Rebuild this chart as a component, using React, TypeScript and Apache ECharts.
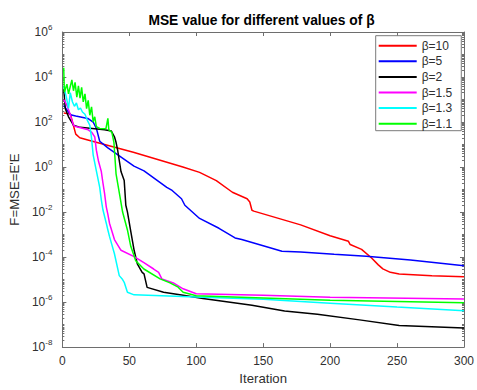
import React, { useEffect, useRef } from "react";
import * as echarts from "echarts";

// Iteration / MSE value pairs
const beta10: [number, number][] = [
  [1, 250], [6, 230], [8, 80], [10, 29], [13, 20], [19, 16], [53, 4.5], [90, 1.0],
  [102.5, 0.58], [115, 0.25], [127, 0.076], [138, 0.039], [140, 0.028], [141.6, 0.012],
  [143, 0.011], [178, 2.7e-3], [200, 8.9e-4], [213.7, 5.0e-4], [215, 3.6e-4],
  [223.5, 2.2e-4], [230.8, 9.3e-5], [236, 4.5e-5], [239.4, 3.0e-5], [245, 2.1e-5],
  [251.6, 1.78e-5], [276, 1.48e-5], [300, 1.35e-5],
];
const beta5: [number, number][] = [
  [1, 550], [6, 210], [10, 185], [19, 145], [23, 100], [25.4, 52], [27.9, 14], [34, 7.1],
  [53.5, 1.1], [61, 0.68], [78, 0.126], [82, 0.091], [89, 0.039], [91.5, 0.02],
  [102.5, 5.2e-3], [117, 1.9e-3], [129, 7.1e-4], [134, 6.0e-4], [150, 3.2e-4],
  [164, 1.8e-4], [178, 1.66e-4], [203, 1.32e-4], [227, 1.1e-4], [260, 7.4e-5], [300, 4.1e-5],
];
const beta2: [number, number][] = [
  [1, 2900], [2.2, 390], [4.6, 170], [8.3, 72], [13.2, 58], [31.5, 45], [36.5, 40],
  [38.9, 22], [40.1, 12.6], [41.3, 5.6], [43.8, 0.63], [46.2, 0.25], [47.4, 0.02],
  [48.6, 0.0102], [51.1, 1.4e-3], [53.6, 2.0e-4], [56, 5.0e-5], [59.6, 2.1e-5],
  [61, 1.78e-5], [63.3, 4.5e-6], [75.6, 2.75e-6], [90.2, 2.0e-6], [105, 1.45e-6],
  [141.6, 7.2e-7], [166, 4.0e-7], [190.5, 2.9e-7], [222, 1.62e-7], [251.6, 9.1e-8],
  [300, 7.1e-8],
];
const beta15: [number, number][] = [
  [1, 1000], [3, 630], [5.5, 250], [7, 125], [8.3, 72], [10, 63], [19.3, 45], [22, 35],
  [24.2, 22], [25.4, 5.6], [27, 1.8], [29.1, 0.63], [30.3, 0.2], [31.5, 0.07],
  [32.8, 0.017], [34, 7.9e-3], [35.2, 3.2e-3], [38.9, 6.0e-4], [43.8, 2.0e-4],
  [53.6, 1.05e-4], [60.9, 5.6e-5], [68.2, 2.95e-5], [71.9, 2.1e-5], [74.3, 1.07e-5],
  [82.9, 7.1e-6], [90.2, 3.9e-6], [100, 2.34e-6], [150, 2.0e-6], [200, 1.66e-6],
  [300, 1.38e-6],
];
const beta13: [number, number][] = [
  [1, 4000], [3, 1250], [4.6, 400], [5.9, 2000], [7.5, 800], [9, 500], [10.5, 700],
  [12, 350], [13.5, 420], [15, 280], [16.9, 220], [18.5, 125], [20.5, 72], [21.8, 19],
  [23, 3.5], [25.4, 0.68], [27.9, 0.126], [29.1, 0.035], [30.3, 0.0126], [32.8, 3.2e-3],
  [34, 1.6e-3], [35.2, 8.3e-4], [38.9, 1.4e-4], [42.5, 1.5e-5], [45, 1.0e-5],
  [46.2, 7.6e-6], [48.6, 2.75e-6], [53.6, 2.1e-6], [100, 1.7e-6], [150, 1.32e-6],
  [200, 8.9e-7], [250, 6.0e-7], [300, 4.1e-7],
];
const beta11: [number, number][] = [
  [1, 25700], [1.5, 2100], [3.4, 4800], [4.6, 1800], [7.1, 7400], [8.3, 2450],
  [9.5, 5750], [10.8, 1260], [12, 4070], [13.2, 1150], [14.4, 3470], [15.6, 780],
  [16.9, 1780], [18.1, 390], [19.3, 910], [20.5, 200], [21.8, 470], [23, 102],
  [24.2, 170], [25.4, 62], [27.9, 52], [32.5, 50], [34, 145], [34.7, 45], [37, 35],
  [38.5, 12.6], [40.1, 0.5], [43, 0.05], [45, 0.01], [48.6, 1.6e-3], [51.1, 3.0e-4],
  [53.6, 1.12e-4], [54.8, 6.8e-5], [60.9, 2.95e-5], [73, 1.07e-5], [80.4, 7.1e-6],
  [86.5, 4.6e-6], [90.2, 2.75e-6], [100, 1.9e-6], [150, 1.5e-6], [200, 1.2e-6],
  [300, 9.3e-7],
];

const seriesNames = ["β=10", "β=5", "β=2", "β=1.5", "β=1.3", "β=1.1"];
const seriesColors = ["#ff0000", "#0000ff", "#000000", "#ff00ff", "#00ffff", "#00ff00"];
const seriesData = [beta10, beta5, beta2, beta15, beta13, beta11];

const titleText = "MSE value for different values of β";
const xName = "Iteration";
const yName = "F=MSE=E'E";

const FONT = "'Liberation Sans', Arial, Helvetica, sans-serif";
const AXIS = "#6e6e6e";
const TEXT = "#303030";

function minorTickValues(): number[] {
  const out: number[] = [];
  for (let n = -8; n < 6; n++) {
    if (n % 2 !== 0) out.push(n);
    for (let k = 2; k <= 9; k++) out.push(n + Math.log10(k));
  }
  return out;
}

export default function App() {
  const ref = useRef<HTMLDivElement>(null);
  useEffect(() => {
    const chart = echarts.init(ref.current!, null, { renderer: "svg" });
    const minor = minorTickValues();
    const supLabel = (v: number) => {
      const e = Math.round(Math.log10(v));
      return "{b|10}{s|" + e + "}";
    };
    const rich = {
      b: { fontSize: 12, lineHeight: 18, color: TEXT, fontFamily: FONT },
      s: { fontSize: 8, verticalAlign: "top", color: TEXT, fontFamily: FONT },
    };
    const option: any = {
      animation: false,
      backgroundColor: "#ffffff",
      textStyle: { fontFamily: FONT },
      grid: { left: 57, right: 11, top: 32, bottom: 37.3, containLabel: false },
      graphic: [
        {
          type: "text",
          x: 261.5,
          y: 20.7,
          style: {
            text: titleText,
            align: "center",
            verticalAlign: "middle",
            font: "bold 13.8px " + FONT,
            fill: "#000",
          },
        },
      ],
      legend: {
        orient: "vertical",
        left: 375.7,
        top: 35.7,
        padding: [4, 9, 1, 3],
        itemGap: 3.6,
        itemWidth: 38,
        itemHeight: 2,
        itemTextGap: 3,
        icon: "rect",
        backgroundColor: "#ffffff",
        borderColor: "#7a7a7a",
        borderWidth: 1,
        borderRadius: 0,
        textStyle: { fontSize: 12, lineHeight: 12, color: TEXT, fontFamily: FONT },
        data: seriesNames,
      },
      xAxis: [
        {
          type: "value",
          min: 0,
          max: 300,
          interval: 50,
          position: "bottom",
          name: xName,
          nameLocation: "middle",
          nameGap: 24,
          nameTextStyle: { fontSize: 13.2, color: TEXT, fontFamily: FONT },
          axisLine: { show: true, onZero: false, lineStyle: { color: AXIS, width: 1 } },
          axisTick: { show: true, inside: true, length: 4, lineStyle: { color: AXIS } },
          axisLabel: { show: true, margin: 8, fontSize: 12, color: TEXT, fontFamily: FONT },
          splitLine: { show: false },
        },
        {
          type: "value",
          min: 0,
          max: 300,
          interval: 50,
          position: "top",
          axisLine: { show: true, onZero: false, lineStyle: { color: AXIS, width: 1 } },
          axisTick: { show: true, inside: true, length: 4, lineStyle: { color: AXIS } },
          axisLabel: { show: false },
          splitLine: { show: false },
        },
      ],
      yAxis: [
        {
          type: "log",
          logBase: 10,
          min: 1e-8,
          max: 1e6,
          interval: 2,
          position: "left",
          name: yName,
          nameLocation: "middle",
          nameGap: 35,
          nameTextStyle: { fontSize: 13.2, color: TEXT, fontFamily: FONT },
          axisLine: { show: true, onZero: false, lineStyle: { color: AXIS, width: 1 } },
          axisTick: { show: true, inside: true, length: 4, lineStyle: { color: AXIS } },
          axisLabel: { show: true, margin: 10, formatter: supLabel, rich },
          splitLine: { show: false },
        },
        {
          type: "log",
          logBase: 10,
          min: 1e-8,
          max: 1e6,
          interval: 2,
          position: "right",
          axisLine: { show: true, onZero: false, lineStyle: { color: AXIS, width: 1 } },
          axisTick: { show: true, inside: true, length: 4, lineStyle: { color: AXIS } },
          axisLabel: { show: false },
          splitLine: { show: false },
        },
        {
          type: "value",
          min: -8,
          max: 6,
          interval: 1,
          position: "left",
          axisLine: { show: true, onZero: false, lineStyle: { color: AXIS, opacity: 0 } },
          axisTick: { show: true, inside: true, length: 2, customValues: minor, lineStyle: { color: AXIS, width: 1 } },
          axisLabel: { show: false },
          splitLine: { show: false },
        },
        {
          type: "value",
          min: -8,
          max: 6,
          interval: 1,
          position: "right",
          axisLine: { show: true, onZero: false, lineStyle: { color: AXIS, opacity: 0 } },
          axisTick: { show: true, inside: true, length: 2, customValues: minor, lineStyle: { color: AXIS, width: 1 } },
          axisLabel: { show: false },
          splitLine: { show: false },
        },
      ],
      series: seriesData.map((d, i) => ({
        name: seriesNames[i],
        type: "line",
        xAxisIndex: 0,
        yAxisIndex: 0,
        data: d,
        symbol: "none",
        showSymbol: false,
        color: seriesColors[i],
        lineStyle: { width: 1.5, color: seriesColors[i] },
      })),
    };
    chart.setOption(option);
    return () => chart.dispose();
  }, []);
  return (
    <div style={{ position: "fixed", left: 0, top: 0, width: 477, height: 390, background: "#fff" }}>
      <div ref={ref} style={{ width: 477, height: 390 }} />
    </div>
  );
}
